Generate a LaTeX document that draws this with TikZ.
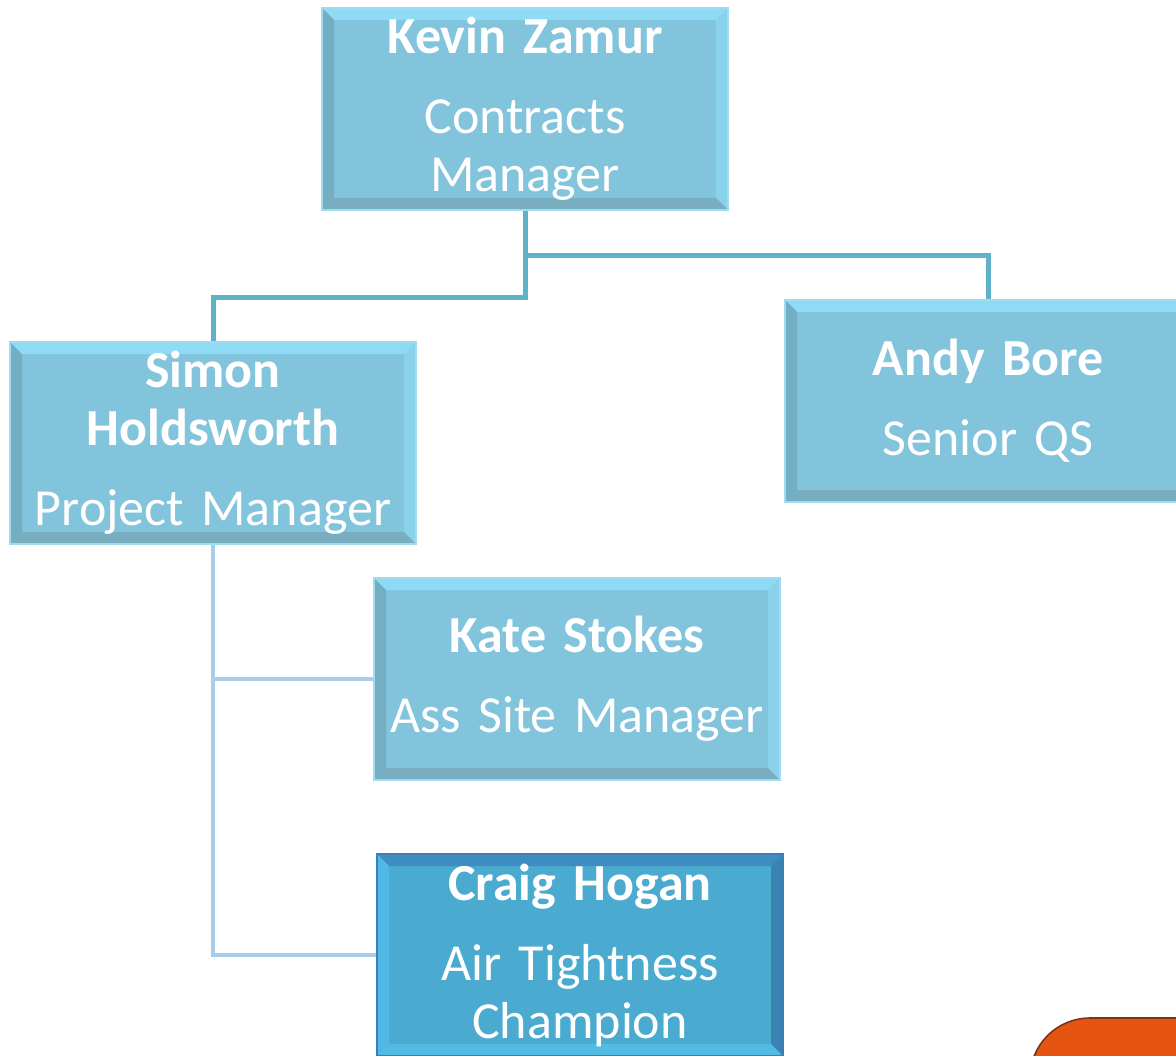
\documentclass[tikz,border=0pt]{standalone}
\usepackage{fontspec}
\setmainfont{Carlito}

\definecolor{boxfill}{HTML}{82C4DC}
\definecolor{boxedge}{HTML}{9EDCF2}
\definecolor{bevlight}{HTML}{8FDAF5}
\definecolor{bevright}{HTML}{8AD2EC}
\definecolor{bevdark}{HTML}{74AEC3}
\definecolor{bevbottom}{HTML}{79AEC1}
\definecolor{pickfill}{HTML}{4AAAD0}
\definecolor{pickedge}{HTML}{3B7DB6}
\definecolor{picktop}{HTML}{3E8CC0}
\definecolor{pickright}{HTML}{3A82B2}
\definecolor{pickbottom}{HTML}{52BBE4}
\definecolor{pickleft}{HTML}{50B8E4}
\definecolor{mainline}{HTML}{5FB2CA}
\definecolor{subline}{HTML}{A9CDE9}
\definecolor{tabfill}{HTML}{E65412}
\definecolor{tabedge}{HTML}{7A3516}

% bevel strips: top, right, bottom, left
\newcommand\bevelstrips[4]{%
  \fill[#1] (path picture bounding box.north west) -- (path picture bounding box.north east)
    -- ([shift={(-6pt,-6pt)}]path picture bounding box.north east)
    -- ([shift={(6pt,-6pt)}]path picture bounding box.north west) -- cycle;
  \fill[#2] (path picture bounding box.north east) -- (path picture bounding box.south east)
    -- ([shift={(-6pt,6pt)}]path picture bounding box.south east)
    -- ([shift={(-6pt,-6pt)}]path picture bounding box.north east) -- cycle;
  \fill[#3] (path picture bounding box.south east) -- (path picture bounding box.south west)
    -- ([shift={(6pt,6pt)}]path picture bounding box.south west)
    -- ([shift={(-6pt,6pt)}]path picture bounding box.south east) -- cycle;
  \fill[#4] (path picture bounding box.south west) -- (path picture bounding box.north west)
    -- ([shift={(6pt,-6pt)}]path picture bounding box.north west)
    -- ([shift={(6pt,6pt)}]path picture bounding box.south west) -- cycle;
}

\tikzset{
  orgbox/.style={rectangle, minimum width=203pt, minimum height=101pt,
    text width=200pt, align=center, inner sep=0pt, text=white,
    font=\fontsize{26}{29}\selectfont,
    fill=boxfill, draw=boxedge, line width=0.8pt,
    path picture={\bevelstrips{bevlight}{bevright}{bevbottom}{bevdark}}},
  pickbox/.style={orgbox, fill=pickfill, draw=pickedge, line width=1.2pt,
    path picture={\bevelstrips{picktop}{pickright}{pickbottom}{pickleft}}},
  topline/.style={draw=mainline, line width=2.5pt},
  childline/.style={draw=subline, line width=2pt},
}

\begin{document}
\begin{tikzpicture}[x=0.5pt,y=-0.5pt]
    \useasboundingbox (0,0) rectangle (1176,1055);

    % people
    \node[orgbox] (kevin) at (525,109) {\textbf{Kevin Zamur}\\[11pt] Contracts\\ Manager};
    \node[orgbox] (simon) at (213,443) {\textbf{Simon}\\ \textbf{Holdsworth}\\[11pt] Project Manager};
    \node[orgbox] (andy) at (988,401) {\textbf{Andy Bore}\\[11pt] Senior QS};
    \node[orgbox] (kate) at (577,679) {\textbf{Kate Stokes}\\[11pt] Ass Site Manager};
    \node[pickbox] (craig) at (580,955) {\textbf{Craig Hogan}\\[11pt] Air Tightness\\ Champion};

    % links
    \coordinate (split) at (525,297);
    \coordinate (branch) at (525,255);
    \draw[topline] (kevin.south) -- (split) -| (simon.north);
    \draw[topline] (branch) -| (andy.north);
    \draw[childline] (simon.south) |- (kate.west);
    \draw[childline] (simon.south) |- (craig.west);

    % corner tab
    \draw[tabedge, fill=tabfill, line width=0.8pt, rounded corners=30pt]
        (1030,1018) rectangle (1320,1200);
\end{tikzpicture}
\end{document}
